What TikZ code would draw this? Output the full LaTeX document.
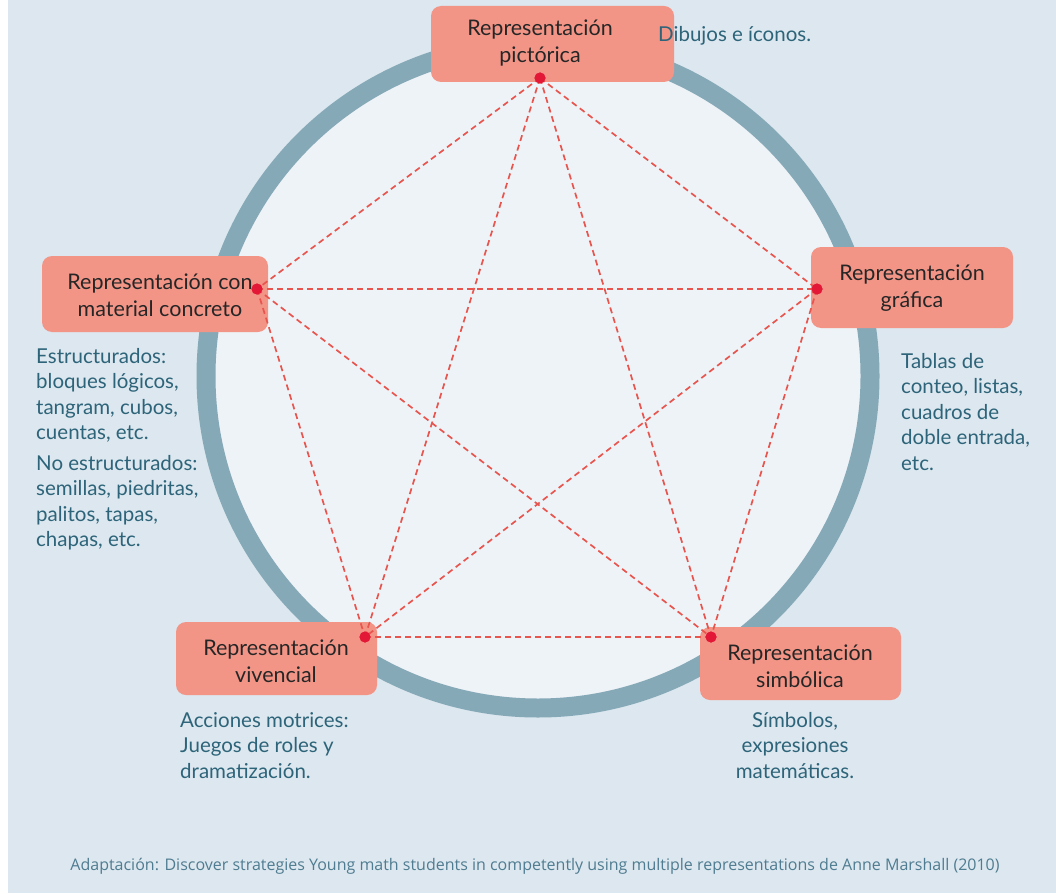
\documentclass[tikz,border=0pt]{standalone}
\usepackage{fontspec}
\setmainfont{Lato}
\newfontfamily\footfont{Open Sans}
\definecolor{bgc}{HTML}{DCE7EF}
\definecolor{innerc}{HTML}{EEF3F7}
\definecolor{ringc}{HTML}{86A9B8}
\definecolor{boxc}{HTML}{F29587}
\definecolor{boxtxt}{HTML}{262626}
\definecolor{notec}{HTML}{2D6479}
\definecolor{footc}{HTML}{4F7C90}
\definecolor{linec}{HTML}{E8554E}
\definecolor{dotc}{HTML}{E31837}
\tikzset{
  boxshape/.style={fill=boxc, rounded corners=10pt, draw=none, inner sep=0pt},
  boxtext/.style={text=boxtxt, align=center, font=\fontsize{21.5}{27}\selectfont, inner sep=0pt},
  notetext/.style={text=notec, align=left, font=\fontsize{20.5}{25.5}\selectfont, inner sep=0pt, anchor=north west},
  dotnode/.style={circle, fill=dotc, minimum size=11pt, inner sep=0pt, draw=none},
  dline/.style={draw=linec, dashed, dash pattern=on 6pt off 4pt, line width=1.7pt}
}
\begin{document}
\begin{tikzpicture}[x=1pt,y=-1pt]
\useasboundingbox (0,0) rectangle (1056,893);
\fill[white] (0,0) rectangle (1056,893);
\fill[bgc] (8,0) rectangle (1056,893);
% ring
\fill[innerc] (538,376) circle (332);
\draw[ringc, line width=19pt] (538,376) circle (332);
% boxes
\node[boxshape, minimum width=243pt, minimum height=76pt] (bT) at (552.5,44) {};
\node[boxshape, minimum width=226pt, minimum height=76pt] (bL) at (155,294) {};
\node[boxshape, minimum width=202pt, minimum height=81pt] (bR) at (912,287.5) {};
\node[boxshape, minimum width=201pt, minimum height=73pt] (bBL) at (276.5,658.5) {};
\node[boxshape, minimum width=201pt, minimum height=73pt] (bBR) at (800.5,663.5) {};
\node[boxtext] (tT) at (540,43) {Representación\\pictórica};
\node[boxtext] (tL) at (160,295) {Representación con\\material concreto};
\node[boxtext] (tR) at (912,288) {Representación\\gráfica};
\node[boxtext] (tBL) at (276,661) {Representación\\vivencial};
\node[boxtext] (tBR) at (800,666) {Representación\\simbólica};
% dots
\node[dotnode] (pT) at (540,78) {};
\node[dotnode] (pL) at (257,289) {};
\node[dotnode] (pR) at (817,289) {};
\node[dotnode] (pBL) at (365,637) {};
\node[dotnode] (pBR) at (711,637) {};
% connectors
\draw[dline] (pT.center) -- (pL.center);
\draw[dline] (pT.center) -- (pR.center);
\draw[dline] (pT.center) -- (pBL.center);
\draw[dline] (pT.center) -- (pBR.center);
\draw[dline] (pL.center) -- (pR.center);
\draw[dline] (pL.center) -- (pBL.center);
\draw[dline] (pL.center) -- (pBR.center);
\draw[dline] (pR.center) -- (pBL.center);
\draw[dline] (pR.center) -- (pBR.center);
\draw[dline] (pBL.center) -- (pBR.center);
\node[dotnode] (qT) at (540,78) {};
\node[dotnode] (qL) at (257,289) {};
\node[dotnode] (qR) at (817,289) {};
\node[dotnode] (qBL) at (365,637) {};
\node[dotnode] (qBR) at (711,637) {};
% notes
\node[notetext] (nT) at (658,26) {Dibujos e íconos.};
\node[notetext] (nL1) at (36,348) {Estructurados:\\bloques lógicos,\\tangram, cubos,\\cuentas, etc.};
\node[notetext] (nL2) at (36,455) {No estructurados:\\semillas, piedritas,\\palitos, tapas,\\chapas, etc.};
\node[notetext] (nR) at (901,353) {Tablas de\\conteo, listas,\\cuadros de\\doble entrada,\\etc.};
\node[notetext] (nBL) at (180,712) {Acciones motrices:\\Juegos de roles y\\dramatización.};
\node[notetext, align=center, anchor=north] (nBR) at (795,712) {Símbolos,\\expresiones\\matemáticas.};
\node[text=footc, inner sep=0pt] (foot) at (535,866) {\footfont\fontsize{16}{18}\selectfont Adaptación: Discover strategies Young math students in competently using multiple representations de Anne Marshall (2010)};
\end{tikzpicture}
\end{document}
